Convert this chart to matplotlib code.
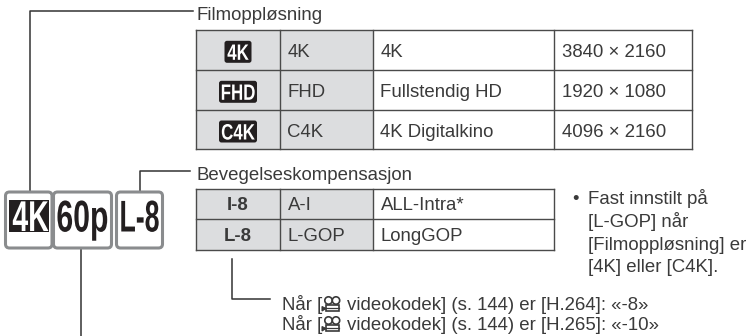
#!/usr/bin/env python3
"""Filmoppløsning / Bevegelseskompensasjon diagram, drawn in pixel coordinates."""

import matplotlib
matplotlib.use("Agg")
import matplotlib.pyplot as plt
import matplotlib.patheffects as pe
from matplotlib.patches import Rectangle, FancyBboxPatch, Circle, Polygon
from matplotlib.transforms import Affine2D

plt.rcParams['font.family'] = ['Liberation Sans', 'DejaVu Sans']

# Table contents
res_icons = ['4K', 'FHD', 'C4K']
res_short = ['4K', 'FHD', 'C4K']
res_names = ['4K', 'Fullstendig HD', '4K Digitalkino']
res_sizes = ['3840 × 2160', '1920 × 1080', '4096 × 2160']
comp_icons = ['I-8', 'L-8']
comp_short = ['A-I', 'L-GOP']
comp_names = ['ALL-Intra*', 'LongGOP']
badge_labels = ['4K', '60p', 'L-8']
note_lines = ['Fast innstilt på', '[L-GOP] når', '[Filmoppløsning] er', '[4K] eller [C4K].']
codec_tails = ['videokodek] (s. 144) er [H.264]: «-8»',
               'videokodek] (s. 144) er [H.265]: «-10»']

TXT = '#3a3a3a'
LINE = '#4a4a4a'
GREY = '#dcdddf'
FS = 13.45

fig = plt.figure(figsize=(7.52, 3.36), dpi=100)
ax = fig.add_axes([0, 0, 1, 1])
ax.set_xlim(0, 752)
ax.set_ylim(336, 0)
ax.axis('off')


class Tall(pe.AbstractPathEffect):
    """Stretch a text upward from its baseline, no condensed bold font is installed."""

    def __init__(self, base_y, sy):
        super().__init__()
        self.base_y = base_y
        self.sy = sy

    def draw_path(self, renderer, gc, tpath, affine, rgbFace=None):
        stretch = Affine2D().translate(0, -self.base_y).scale(1, self.sy).translate(0, self.base_y)
        renderer.draw_path(gc, tpath, affine + stretch, rgbFace)


def cell_text(x, y, s, **kw):
    kw.setdefault('fontsize', FS)
    kw.setdefault('color', TXT)
    ax.text(x, y, s, va='baseline', **kw)


def narrow_text(cx, y, s, size, sx, color):
    # size is the height wanted, sx how much narrower than normal the letters are
    ax.text(cx, y, s, color=color, fontsize=size * sx, fontweight='bold', ha='center', va='baseline',
            zorder=5, path_effects=[Tall(336 - y, 1 / sx)])


def draw_grid(xs, ys):
    ax.add_patch(Rectangle((xs[0], ys[0]), xs[2] - xs[0], ys[-1] - ys[0], fc=GREY, ec='none', zorder=1))
    for y in ys:
        ax.plot([xs[0], xs[-1]], [y, y], color=LINE, lw=1.0, zorder=2, solid_capstyle='projecting')
    for x in xs:
        ax.plot([x, x], [ys[0], ys[-1]], color=LINE, lw=1.0, zorder=2, solid_capstyle='projecting')


def icon(cx, cy, s, w, h=22):
    ax.add_patch(FancyBboxPatch((cx - w / 2 + 2, cy - h / 2 + 2), w - 4, h - 4,
                                boxstyle='round,pad=2,rounding_size=2.5', fc='#231f20', ec='none', zorder=3))
    narrow_text(cx, cy + 8, s, 16, 0.76, 'white')


def movie_icon(x, y):
    # small camera glyph used inside the codec text
    for dx in (9, 16.5):
        ax.add_patch(Circle((x + dx, y - 9), 3.7, fc='none', ec=TXT, lw=1.2))
    ax.add_patch(Rectangle((x + 6.5, y - 5), 13, 6.5, fc='none', ec=TXT, lw=1.2))
    ax.plot([x + 6.5, x + 19.5], [y - 2, y - 2], color=TXT, lw=0.9)
    ax.add_patch(Polygon([(x + 6.5, y - 1), (x + 2.5, y - 3), (x + 2.5, y + 1.5)], fc=TXT, ec=TXT, lw=0.8))


# resolution table
xs1 = [196, 280, 373, 554, 692]
ys1 = [29.5, 69.5, 109.5, 149]
draw_grid(xs1, ys1)
icon_w = [27, 38, 38]
base1 = [57.3, 97.3, 137]
for i in range(3):
    icon(238, base1[i] - 5.5, res_icons[i], icon_w[i])
    cell_text(287.5, base1[i], res_short[i])
    cell_text(380.5, base1[i], res_names[i])
    cell_text(561.5, base1[i], res_sizes[i])

# motion compensation table
xs2 = [196, 280, 373, 554]
ys2 = [189, 218.5, 250]
draw_grid(xs2, ys2)
base2 = [210, 240.7]
for i in range(2):
    ax.text(238, base2[i], comp_icons[i], ha='center', va='baseline', fontsize=FS,
            fontweight='bold', color=TXT)
    cell_text(287.5, base2[i], comp_short[i])
    cell_text(380.5, base2[i], comp_names[i])

# headings
cell_text(197, 20, 'Filmoppløsning')
cell_text(197, 180, 'Bevegelseskompensasjon')

# leader lines
ax.plot([193, 30, 30], [10.5, 10.5, 191], color='#333333', lw=1.1)
ax.plot([190, 140, 140], [170.5, 170.5, 191], color='#333333', lw=1.1)
ax.plot([81, 81], [248, 336], color='#333333', lw=1.1)
ax.plot([232, 232, 270], [259, 298.5, 298.5], color='#333333', lw=1.1)

# badges
badge_x = [(5.5, 52), (53.5, 111.5), (116.5, 162.5)]
for (x0, x1), s in zip(badge_x, badge_labels):
    ax.add_patch(FancyBboxPatch((x0 + 3, 195), x1 - x0 - 6, 50, boxstyle='round,pad=3,rounding_size=4',
                                fc='white', ec='#8a8c8e', lw=2.2, zorder=3))
ax.add_patch(Rectangle((9, 200), 40, 32, fc='#231f20', ec='none', zorder=4))
narrow_text(30.5, 231, badge_labels[0], 31, 0.66, 'white')
narrow_text(82.5, 231.5, badge_labels[1], 32, 0.68, '#231f20')
narrow_text(139.5, 231.5, badge_labels[2], 32, 0.6, '#231f20')

# side note
ax.text(572, 204.5, '•', fontsize=FS, color=TXT, va='baseline')
for y, s in zip([204.5, 227, 249.5, 272], note_lines):
    cell_text(588, y, s)

# codec notes
for y, s in zip([309.5, 329.5], codec_tails):
    cell_text(281.5, y, 'Når [')
    movie_icon(319.5, y)
    cell_text(347, y, s)

fig.savefig('out.png', dpi=100)
